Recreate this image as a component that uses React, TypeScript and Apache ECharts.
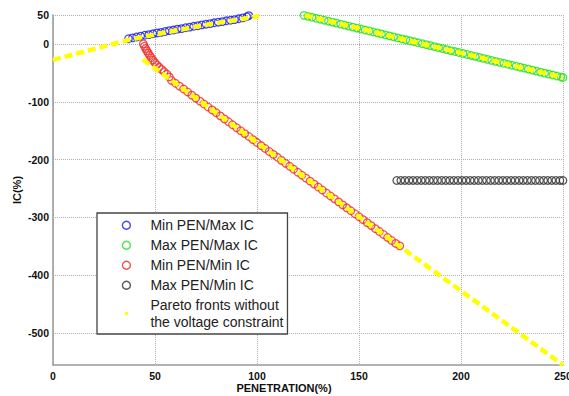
import React, { useEffect, useRef } from "react";
import * as echarts from "echarts";

const xTicks = [0, 50, 100, 150, 200, 250];
const yTicks = [-500, -400, -300, -200, -100, 0, 50];

const NAME_BLUE = "Min PEN/Max IC";
const NAME_GREEN = "Max PEN/Max IC";
const NAME_RED = "Min PEN/Min IC";
const NAME_BLACK = "Max PEN/Min IC";
const NAME_YELLOW = "Pareto fronts without\nthe voltage constraint";

const minPenMaxIc = [
  [37, 9], [39, 10.5], [41, 12], [43, 13.5], [45, 15], [47, 16], [49, 17.5], [51, 19], [53, 20],
  [55, 21.5], [57, 23], [59, 24], [61, 25.5], [63, 26.5], [65, 28], [67, 29], [69, 30.5], [71, 31.5],
  [73, 33], [75, 34], [77, 35], [79, 36.5], [81, 37.5], [83, 38.5], [85, 40], [87, 41], [89, 42],
  [91, 43.5], [93, 45], [95, 47], [96, 49],
];

const maxPenMaxIc = [
  [123, 49.4], [125, 47.7], [127, 46], [129, 44.3], [131, 42.7], [133, 41], [135, 39.3], [137, 37.6],
  [139, 35.9], [141, 34.2], [143, 32.5], [145, 30.8], [147, 29.1], [149, 27.4], [151, 25.7], [153, 24],
  [155, 22.4], [157, 20.7], [159, 19], [161, 17.3], [163, 15.6], [165, 13.9], [167, 12.2], [169, 10.5],
  [171, 8.8], [173, 7.1], [175, 5.4], [177, 3.7], [179, 2], [181, 0.4], [183, -1.3], [185, -3],
  [187, -4.7], [189, -6.4], [191, -8.1], [193, -9.8], [195, -11.5], [197, -13.2], [199, -14.9],
  [201, -16.6], [203, -18.2], [205, -19.9], [207, -21.6], [209, -23.3], [211, -25], [213, -26.7],
  [215, -28.4], [217, -30.1], [219, -31.8], [221, -33.5], [223, -35.2], [225, -36.9], [227, -38.6],
  [229, -40.2], [231, -41.9], [233, -43.6], [235, -45.3], [237, -47], [239, -48.7], [241, -50.4],
  [243, -52.1], [245, -53.8], [247, -55.5], [249, -57.2], [250, -58],
];

const minPenMinIc = [
  [44.3, 0], [44.8, -4], [45.4, -8], [46, -12], [46.7, -16], [47.4, -20], [48.2, -24], [49, -28],
  [49.9, -32], [50.9, -36], [52, -40], [53.2, -44], [54.5, -48], [55.8, -52], [57, -57], [58, -63],
  [60, -68], [62, -73], [64, -78], [66, -83], [68, -88.5], [70, -93.6], [72, -98.8], [74, -103.9],
  [76, -109], [78, -114], [80, -119], [82, -124.4], [84, -129.5], [86, -134.6], [88, -139.8],
  [90, -144.9], [92, -150], [94, -155], [96, -160], [98, -165.4], [100, -170.5], [102, -175.7],
  [104, -180.8], [106, -185.9], [108, -191], [110, -196], [112, -201.3], [114, -206.4], [116, -211.5],
  [118, -216.7], [120, -221.8], [122, -226.9], [124, -232], [126, -237.2], [128, -242.3], [130, -247.4],
  [132, -252.5], [134, -257.7], [136, -262.8], [138, -267.8], [140, -273], [142, -278.2], [144, -283.3],
  [146, -288.4], [148, -293.6], [150, -298.7], [152, -303.8], [154, -308.9], [156, -314], [158, -319.2],
  [160, -324.3], [162, -329.4], [164, -334.5], [166, -339.7], [168, -344.8], [170, -349],
];

const maxPenMinIc = [
  [168.5, -236], [170.5, -236], [172.5, -236], [174.5, -236], [176.5, -236], [178.5, -236],
  [180.5, -236], [182.5, -236], [184.5, -236], [186.5, -236], [188.5, -236], [190.5, -236],
  [192.5, -236], [194.5, -236], [196.5, -236], [198.5, -236], [200.5, -236], [202.5, -236],
  [204.5, -236], [206.5, -236], [208.5, -236], [210.5, -236], [212.5, -236], [214.5, -236],
  [216.5, -236], [218.5, -236], [220.5, -236], [222.5, -236], [224.5, -236], [226.5, -236],
  [228.5, -236], [230.5, -236], [232.5, -236], [234.5, -236], [236.5, -236], [238.5, -236],
  [240.5, -236], [242.5, -236], [244.5, -236], [246.5, -236], [248.5, -236], [250, -236],
];

const paretoUpperLeft = [
  [0, -27.6], [10, -18.3], [20, -9], [30, 0.3], [37, 6.9], [45, 12.8], [55, 19.8], [65, 26.3],
  [72, 31], [80, 35.8], [90, 41.5], [96, 45], [101, 48.5],
];
const paretoUpperRight = [
  [123.5, 49.5], [150, 27], [175, 5], [200, -15.5], [225, -37], [250, -58],
];
const paretoLower = [
  [44, -27], [100, -170.5], [150, -298.7], [200, -426.8], [250, -555],
];

const FONT = "'Liberation Sans', Arial, Helvetica, sans-serif";

function circleSeries(name: string, data: number[][], color: string) {
  return {
    name,
    type: "scatter",
    data,
    symbol: "circle",
    symbolSize: 7.5,
    itemStyle: { color: "rgba(255,255,255,0)", borderColor: color, borderWidth: 1.3 },
    emphasis: { disabled: true },
  };
}

function yellowSeries(data: number[][]) {
  return {
    name: NAME_YELLOW,
    type: "line",
    data,
    showSymbol: false,
    symbol: "circle",
    itemStyle: { color: "#ffff00" },
    lineStyle: { color: "#ffff00", width: 4.5, type: [8, 4] },
    emphasis: { disabled: true },
  };
}

export default function App() {
  const ref = useRef<HTMLDivElement>(null);
  useEffect(() => {
    document.body.style.margin = "0";
    if (!ref.current) return;
    const chart = echarts.init(ref.current, null, { renderer: "svg" });
    chart.setOption({
      animation: false,
      backgroundColor: "#ffffff",
      grid: { left: 53, right: 6, top: 15, bottom: 31, containLabel: false, outerBoundsMode: "none" },
      xAxis: {
        type: "value",
        min: 0,
        max: 250,
        interval: 50,
        name: "PENETRATION(%)",
        nameLocation: "middle",
        nameGap: 17,
        nameMoveOverlap: false,
        nameTextStyle: {
          fontFamily: FONT,
          fontWeight: "bold",
          fontSize: 11,
          color: "#111",
          padding: [0, 48, 0, 0],
        },
        axisLine: { show: true, onZero: false, lineStyle: { color: "#999", width: 1.5 } },
        axisTick: { show: false },
        axisLabel: {
          margin: 5,
          fontFamily: FONT,
          fontWeight: "bold",
          fontSize: 10.5,
          color: "#111",
          formatter: (v: number) => (xTicks.includes(v) ? String(v) : ""),
        },
        splitLine: { show: true, lineStyle: { color: "#b0b0b0", type: "dotted", width: 1 } },
      },
      yAxis: {
        type: "value",
        min: -555,
        max: 50,
        name: "IC(%)",
        nameLocation: "middle",
        nameGap: 31,
        nameMoveOverlap: false,
        nameTextStyle: {
          fontFamily: FONT,
          fontWeight: "bold",
          fontSize: 11,
          color: "#111",
        },
        axisLine: { show: true, onZero: false, lineStyle: { color: "#999", width: 1.5 } },
        axisTick: { show: false, customValues: yTicks },
        axisLabel: {
          customValues: yTicks,
          margin: 4,
          fontFamily: FONT,
          fontWeight: "bold",
          fontSize: 10.5,
          color: "#111",
        },
        splitLine: { show: true, lineStyle: { color: "#b0b0b0", type: "dotted", width: 1 } },
      },
      legend: {
        show: true,
        orient: "vertical",
        left: 97,
        top: 213,
        padding: [4, 4, 4, 24.7],
        itemWidth: 38,
        itemHeight: 8,
        itemGap: 3.5,
        backgroundColor: "#ffffff",
        borderColor: "#444",
        borderWidth: 1.3,
        borderRadius: 0,
        selectedMode: false,
        textStyle: { fontFamily: FONT, fontSize: 14, color: "#222", lineHeight: 16.5 },
        data: [
          { name: NAME_BLUE, icon: "circle", itemStyle: { borderWidth: 1.4 } },
          { name: NAME_GREEN, icon: "circle", itemStyle: { borderWidth: 1.4 } },
          { name: NAME_RED, icon: "circle", itemStyle: { borderWidth: 1.4 } },
          { name: NAME_BLACK, icon: "circle", itemStyle: { borderWidth: 1.4 } },
          {
            name: NAME_YELLOW,
            icon: "path://M0,0L0.01,0M8,8L8.01,8M2.2,4A1.8,1.8,0,1,0,5.8,4A1.8,1.8,0,1,0,2.2,4Z",
            itemStyle: { color: "#ffff00", borderWidth: 0 },
          },
        ],
      },
      series: [
        circleSeries(NAME_BLUE, minPenMaxIc, "#1c1ce6"),
        circleSeries(NAME_GREEN, maxPenMaxIc, "#22dd22"),
        circleSeries(NAME_RED, minPenMinIc, "#ee2828"),
        circleSeries(NAME_BLACK, maxPenMinIc, "#303030"),
        yellowSeries(paretoUpperLeft),
        yellowSeries(paretoUpperRight),
        yellowSeries(paretoLower),
      ],
    });
    return () => chart.dispose();
  }, []);
  return <div ref={ref} style={{ width: 569, height: 396 }} />;
}
